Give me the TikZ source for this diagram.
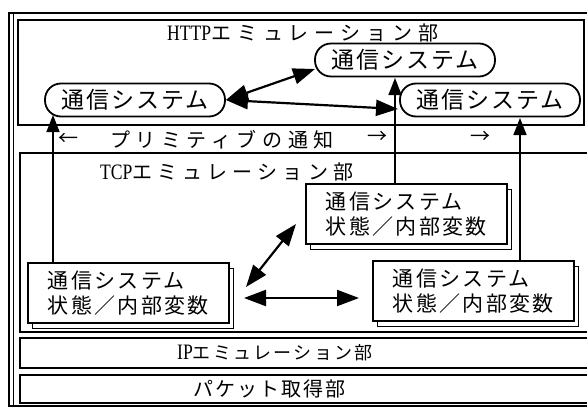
\documentclass[tikz,border=0pt]{standalone}
\usepackage{fontspec}
\setmainfont{Noto Sans CJK JP}
\newfontfamily\latinserif[FakeStretch=0.8]{Liberation Serif}
\usetikzlibrary{arrows.meta,calc,shadows}
\newcommand{\labfont}[2]{\fontsize{#1}{#1}\selectfont\addfontfeatures{LetterSpace=#2}}
\begin{document}
\begin{tikzpicture}[x=1pt,y=-1pt,
  box/.style={draw,line width=1.5pt},
  stad/.style={draw,line width=1.8pt,fill=white,rounded corners=16pt,minimum width=180pt,minimum height=33pt,inner sep=0pt,font=\labfont{23}{8}},
  statebox/.style={draw,line width=1.5pt,fill=white,minimum width=201pt,minimum height=60pt,inner xsep=9pt,inner ysep=0pt,align=left,anchor=north west,font=\fontsize{21}{25}\selectfont\addfontfeatures{LetterSpace=11},copy shadow={shadow xshift=5pt,shadow yshift=-6pt,line width=1.3pt}},
  lab/.style={anchor=west,inner sep=0pt},
  biarr/.style={line width=2.2pt,{Triangle[length=22pt,width=16pt]}-{Triangle[length=22pt,width=16pt]}},
  uparr/.style={line width=1.6pt,-{Triangle[length=17pt,width=13pt]}}
]
\useasboundingbox (0,0) rectangle (587,407);
\clip (0,0) rectangle (587,407);
% frames
\draw[line width=1.8pt] (9,13) rectangle (600,406);
\draw[line width=1.2pt] (13.5,13) -- (13.5,406);
\draw[box] (18,20) rectangle (584,125);
\draw[box] (20,153) rectangle (600,332);
\draw[box] (20,338) rectangle (600,368);
\draw[box] (20,375) rectangle (600,403);
% labels
\node[lab] (http) at (167,33) {{\latinserif\fontsize{22}{22}\selectfont HTTP}\labfont{20}{30}エミュレーション部};
\node[lab] (tcp) at (100,172) {{\latinserif\fontsize{22}{22}\selectfont TCP}\labfont{20}{26}エミュレーション部};
\node[lab] (ip) at (177,353) {{\latinserif\fontsize{22}{22}\selectfont IP}\labfont{18}{13}エミュレーション部};
\node[lab] (pkt) at (193,389) {\labfont{20}{10}パケット取得部};
\node[lab] (prim) at (110,140) {\labfont{20}{28}プリミティブの通知};
\node[lab] (la) at (58,139) {\labfont{20}{0}←};
\node[lab] (ra1) at (367,137) {\labfont{20}{0}→};
\node[lab] (ra2) at (470,137) {\labfont{20}{0}→};
% stadium nodes
\node[stad] (L) at (135,100) {通信システム};
\node[stad] (T) at (405,60) {通信システム};
\node[stad] (R) at (490,100) {通信システム};
% state boxes
\node[statebox] (B) at (305,183) {通信システム\\状態／内部変数};
\node[statebox] (A) at (27,262) {通信システム\\状態／内部変数};
\node[statebox] (C) at (372,260) {通信システム\\状態／内部変数};
% arrow coordinates
\coordinate (lt) at (53,115);
\coordinate (mt) at (395,78);
\coordinate (rt) at (520,118);
\coordinate (tw) at (315,69);
\coordinate (rw) at (398,109);
\coordinate (ab1) at (246,287);
\coordinate (ab2) at (296,224);
\coordinate (ac1) at (244,298);
\coordinate (ac2) at (359,298);
% connectors
\draw[uparr] (A.north -| lt) -- (lt);
\draw[uparr] (B.north -| mt) -- (mt);
\draw[uparr] (C.north -| rt) -- (rt);
\draw[biarr] (L.east) -- (tw);
\draw[biarr] (L.east) -- (rw);
\draw[biarr] (ab1) -- (ab2);
\draw[biarr] (ac1) -- (ac2);
\end{tikzpicture}
\end{document}
